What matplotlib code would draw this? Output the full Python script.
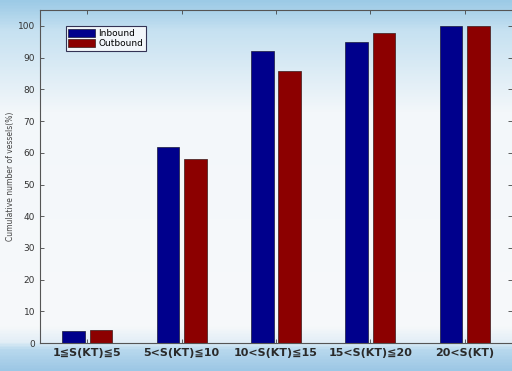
import numpy as np
import matplotlib.pyplot as plt
from matplotlib.colors import LinearSegmentedColormap

# cumulative share of vessels per speed band
categories = ["1≦S(KT)≦5", "5<S(KT)≦10", "10<S(KT)≦15", "15<S(KT)≦20", "20<S(KT)"]
inbound = [3.9, 61.8, 92.1, 95.0, 100.0]
outbound = [4.3, 58.2, 85.9, 97.8, 100.0]

plt.rcParams['font.family'] = ['DejaVu Sans', 'Noto Sans CJK JP']

fig = plt.figure(figsize=(5.12, 3.71), dpi=100)

# soft blue/white backdrop behind the plot (0 = top edge, 1 = bottom edge)
bg = fig.add_axes([0, 0, 1, 1], zorder=0)
grad = LinearSegmentedColormap.from_list(
    "bg", [(0.0, "#9ccae6"), (0.08, "#c6e1f1"), (0.3, "#f3f7fa"),
           (0.88, "#f7f9fa"), (0.925, "#e2eef6"), (0.945, "#b9d9ee"),
           (1.0, "#9cc7e5")])
bg.imshow(np.linspace(0, 1, 371).reshape(-1, 1), aspect="auto", cmap=grad,
          extent=[0, 1, 0, 1], origin="upper")
bg.axis("off")

ax = fig.add_axes([0.078, 0.075, 0.922, 0.898], zorder=1)
ax.patch.set_alpha(0)

x = np.arange(1, len(categories) + 1)
w = 0.24
ax.bar(x - 0.145, inbound, w, color="#00008c", edgecolor="#1a1a3a", linewidth=0.5, label="Inbound")
ax.bar(x + 0.145, outbound, w, color="#8c0000", edgecolor="#3a1a1a", linewidth=0.5, label="Outbound")

ax.set_xlim(0.5, 5.5)
ax.set_ylim(0, 105)
ax.set_yticks(range(0, 101, 10))
ax.set_xticks(x)
ax.set_xticklabels(categories, fontsize=8, fontweight="semibold", color="#2a2a2a")
ax.tick_params(axis="y", labelsize=6.5, labelcolor="#333333")
ax.tick_params(direction="in", top=True, right=True, length=3, width=0.6, color="#444444")
ax.set_ylabel("Cumulative number of vessels(%)", fontsize=5.5, color="#444444", labelpad=2)

for side in ["left", "bottom", "top"]:
    ax.spines[side].set_color("#555555")
    ax.spines[side].set_linewidth(0.8)
ax.spines["right"].set_visible(False)

leg = ax.legend(loc="upper left", bbox_to_anchor=(0.045, 0.965), fontsize=6.5, frameon=True,
                fancybox=False, handlelength=3.0, handleheight=0.9, borderpad=0.3,
                labelspacing=0.15, handletextpad=0.3)
leg.get_frame().set_edgecolor("#333355")
leg.get_frame().set_linewidth(0.8)
leg.get_frame().set_facecolor("#f2f6fa")
leg.get_frame().set_alpha(1)

fig.savefig("out.png", dpi=100)
